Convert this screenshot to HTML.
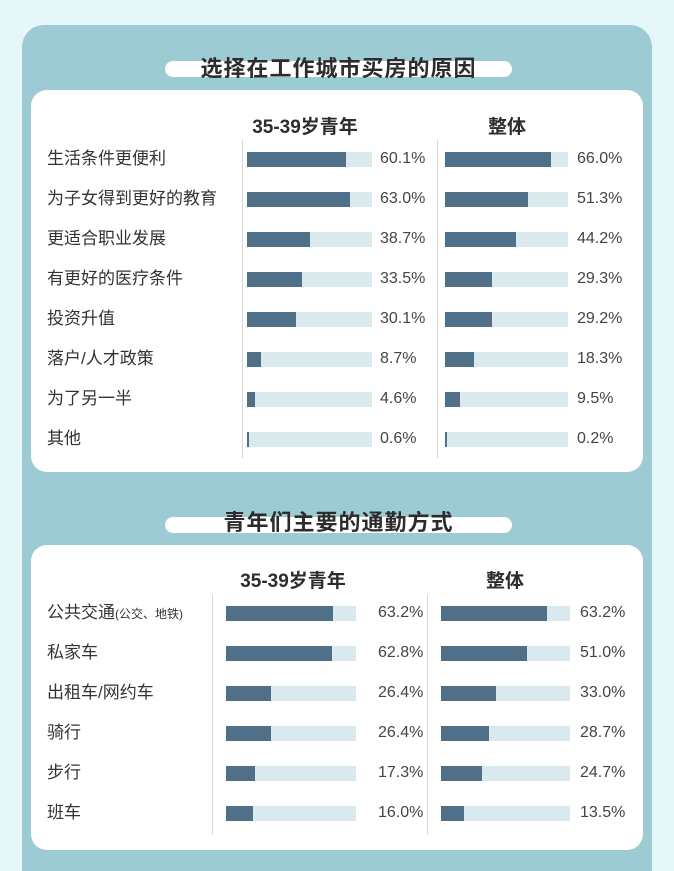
<!DOCTYPE html>
<html style="overflow:hidden;height:871px"><head><meta charset="utf-8"><style>
body{margin:0;width:674px;height:871px;background:#e6f7f9;position:relative;overflow:hidden;font-family:"Liberation Sans","Noto Sans CJK SC",sans-serif;color:#333}
div{position:absolute;box-sizing:border-box}
.panel{left:22px;top:25px;width:630px;height:846px;background:#9dcbd3;border-radius:22px 22px 0 0}
.card{left:31px;width:612px;background:#fff;border-radius:16px}
.pill{height:16px;background:#fff;border-radius:8px}
.title{font-size:22px;font-weight:bold;color:#2c2c2c;text-align:center;white-space:nowrap;letter-spacing:1px}
.hd{font-size:19px;font-weight:bold;color:#2c2c2c;white-space:nowrap;text-align:center}
.lab{font-size:17px;white-space:nowrap;line-height:20px}
.val{font-size:16px;white-space:nowrap;line-height:20px;color:#444}
.tr{height:15px;background:#d9e9ee}
.br{height:15px;background:#506f88}
.vl{width:1px;background:#d8d8d8}
</style></head><body>
<div class="panel"></div>
<div class="pill" style="left:165px;top:61px;width:347px"></div>
<div class="title" style="left:165px;top:51px;width:347px">选择在工作城市买房的原因</div>
<div class="card" style="top:90px;height:382px"></div>
<div class="hd" style="left:220px;top:112px;width:170px">35-39岁青年</div>
<div class="hd" style="left:467px;top:112px;width:80px">整体</div>
<div class="vl" style="left:242px;top:140px;height:318px"></div>
<div class="vl" style="left:437px;top:140px;height:318px"></div>

<div class="pill" style="left:165px;top:517px;width:347px"></div>
<div class="title" style="left:165px;top:505px;width:347px">青年们主要的通勤方式</div>
<div class="card" style="top:545px;height:305px"></div>
<div class="hd" style="left:208px;top:566px;width:170px">35-39岁青年</div>
<div class="hd" style="left:465px;top:566px;width:80px">整体</div>
<div class="vl" style="left:212px;top:595px;height:240px"></div>
<div class="vl" style="left:427px;top:595px;height:240px"></div>

<div id="c"></div>
<script>
var r1=[["生活条件更便利",60.1,66.0],["为子女得到更好的教育",63.0,51.3],["更适合职业发展",38.7,44.2],["有更好的医疗条件",33.5,29.3],["投资升值",30.1,29.2],["落户/人才政策",8.7,18.3],["为了另一半",4.6,9.5],["其他",0.6,0.2]];
var r2=[["公共交通<span style='font-size:12px'>(公交、地铁)</span>",63.2,63.2],["私家车",62.8,51.0],["出租车/网约车",26.4,33.0],["骑行",26.4,28.7],["步行",17.3,24.7],["班车",16.0,13.5]];
var h="";
function row(y,l,a,b,L){
 h+='<div class="lab" style="left:47px;top:'+(y-10)+'px">'+l+'</div>';
 h+='<div class="tr" style="left:'+L.x1+'px;top:'+(y-7)+'px;width:'+L.w1+'px"></div>';
 h+='<div class="br" style="left:'+L.x1+'px;top:'+(y-7)+'px;width:'+Math.max(2,a*L.s1)+'px"></div>';
 h+='<div class="val" style="left:'+L.v1+'px;top:'+(y-10)+'px">'+a.toFixed(1)+'%</div>';
 h+='<div class="tr" style="left:'+L.x2+'px;top:'+(y-7)+'px;width:'+L.w2+'px"></div>';
 h+='<div class="br" style="left:'+L.x2+'px;top:'+(y-7)+'px;width:'+Math.max(2,b*L.s2)+'px"></div>';
 h+='<div class="val" style="left:'+L.v2+'px;top:'+(y-10)+'px">'+b.toFixed(1)+'%</div>';
}
var L1={x1:247,w1:125,s1:1.64,v1:380,x2:445,w2:123,s2:1.61,v2:577};
var L2={x1:226,w1:130,s1:1.69,v1:378,x2:441,w2:129,s2:1.68,v2:580};
r1.forEach(function(r,i){row(159+40*i,r[0],r[1],r[2],L1)});
r2.forEach(function(r,i){row(613+40*i,r[0],r[1],r[2],L2)});
document.getElementById("c").outerHTML=h;
</script>
</body></html>
